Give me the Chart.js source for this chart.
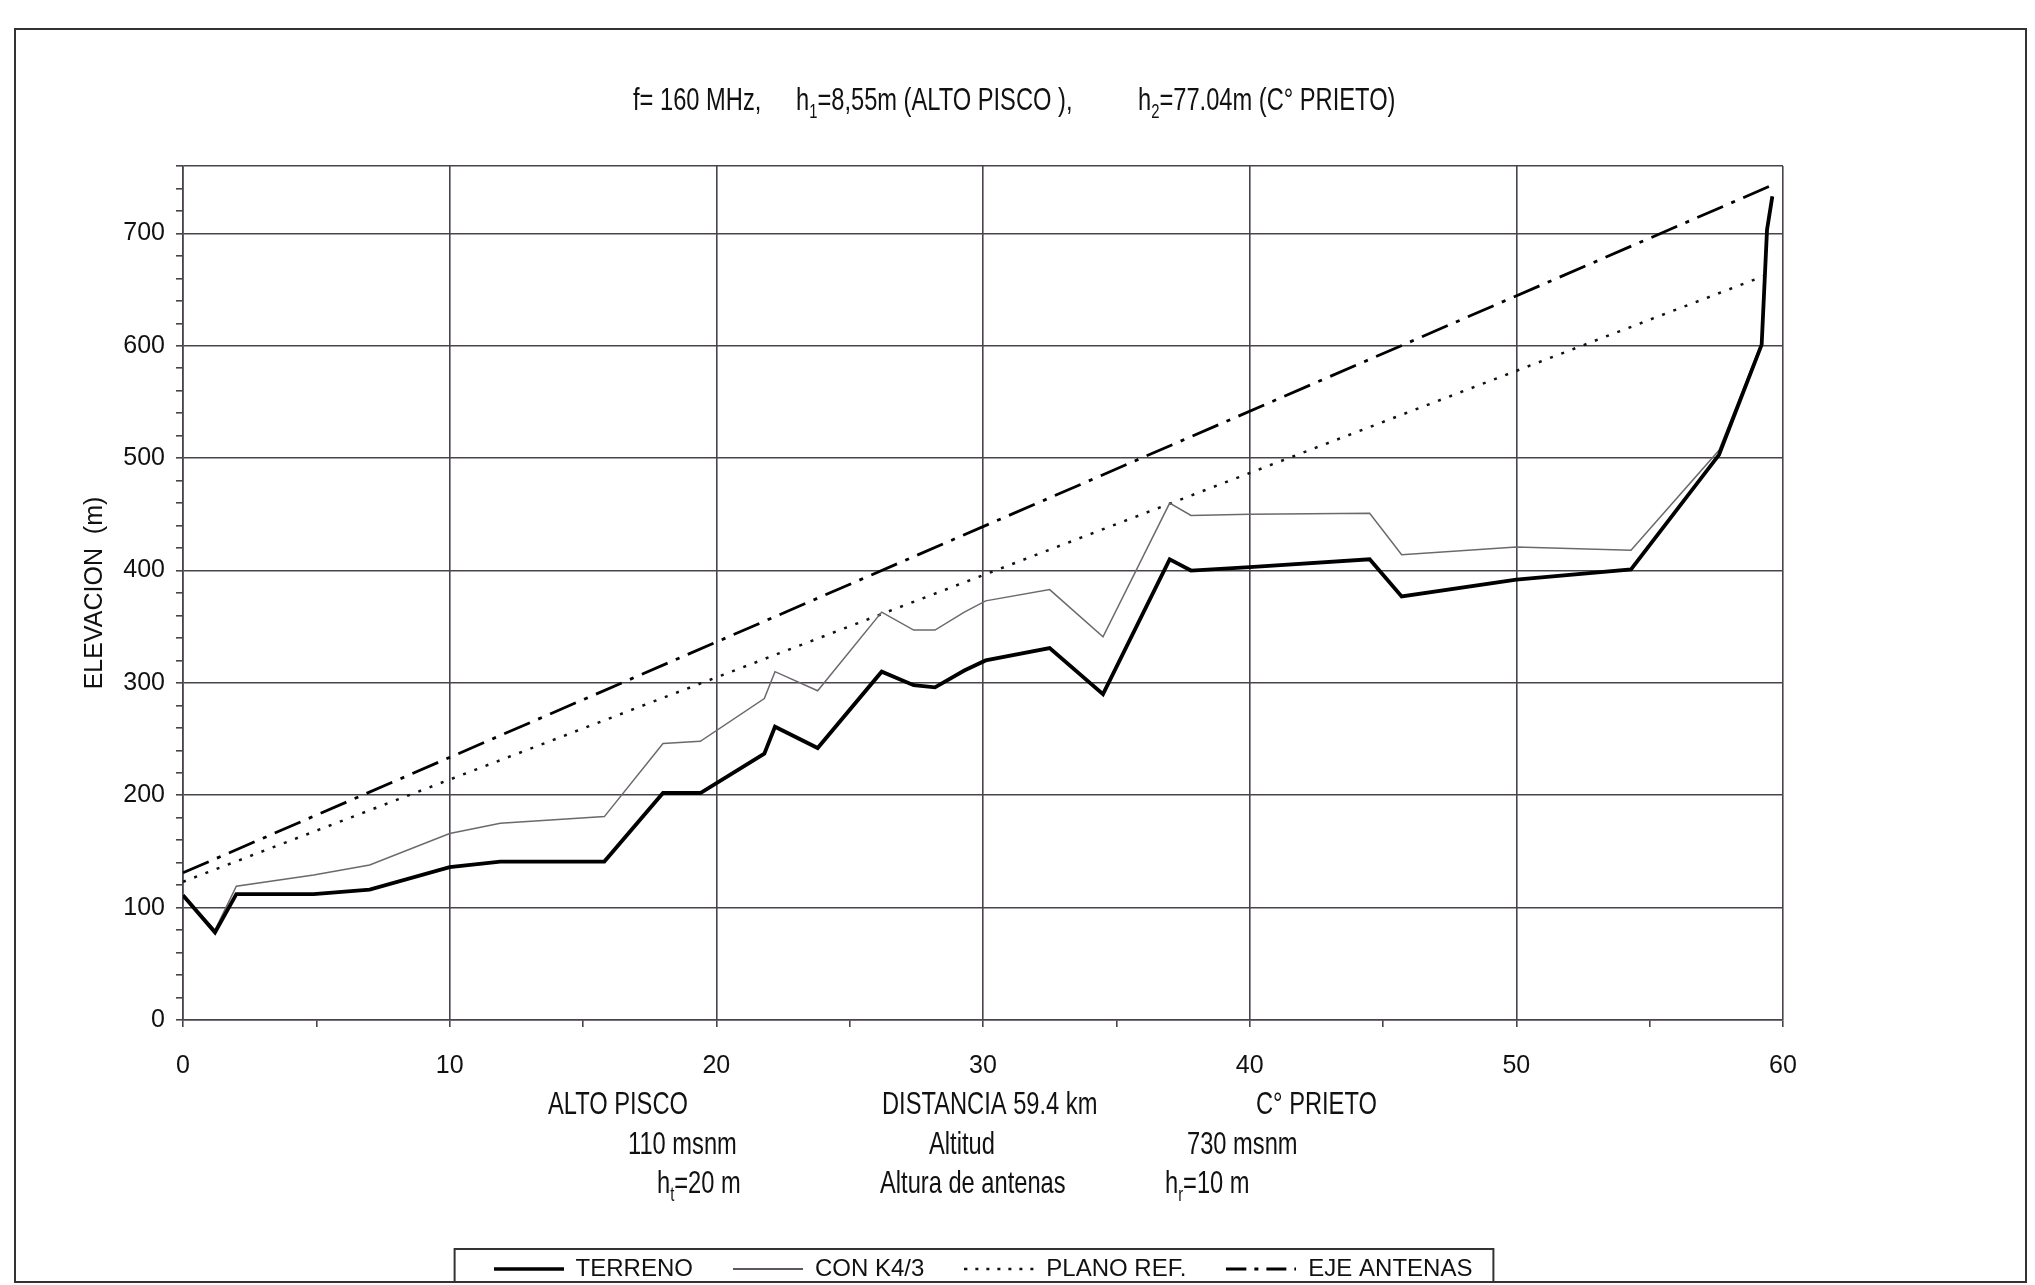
<!DOCTYPE html>
<html>
<head>
<meta charset="utf-8">
<script src="https://cdn.jsdelivr.net/npm/chart.js@4/dist/chart.umd.min.js"></script>
<style>
  body { margin: 0; background: #fff; }
  #wrap { width: 2035px; height: 1285px; }
</style>
</head>
<body>
<div id="wrap"><canvas id="perfil" width="2035" height="1285"></canvas></div>
<script>
// distance (km) and elevation (m)
var distTerreno = [0, 1.2, 2.0, 4.9, 7.0, 10.0, 11.9, 15.8, 18.0, 19.4, 21.8, 22.2, 23.8, 26.2, 27.4, 28.2, 29.3, 30.1, 32.5, 34.5, 37.0, 37.8, 40.0, 44.5, 45.7, 50.0, 54.3, 57.6, 59.2, 59.4, 59.6];
var elevTerreno = [111, 78, 112, 112, 116, 136, 141, 141, 202, 202, 237, 261, 242, 310, 298, 296, 311, 320, 331, 290, 410, 400, 403, 410, 377, 392, 401, 503, 601, 703, 733];
var elevConK43  = [111, 80, 119, 129, 138, 166, 175, 181, 246, 248, 286, 310, 293, 363, 347, 347, 363, 373, 383, 341, 460, 449, 450, 451, 414, 421, 418, 507, 603, 704, 733];
// the two straight lines only need their end points
var distLineas = [0, 59.6];
var elevPlanoRef = [123, 665];
var elevEjeAntenas = [131, 743];

var seriesNombres = ['TERRENO', 'CON K4/3', 'PLANO REF.', 'EJE ANTENAS'];
var ejeYTitulo = 'ELEVACION  (m)';
var yMax = 760, xMax = 60;

// texts, "_x" means x is written as subscript
var tituloPartes = ['f= 160 MHz,', 'h_1=8,55m (ALTO PISCO ),', 'h_2=77.04m (C\u00b0 PRIETO)'];
var notaFilas = [
  ['ALTO PISCO', 'DISTANCIA 59.4 km', 'C\u00b0 PRIETO'],
  ['110 msnm', 'Altitud', '730 msnm'],
  ['h_t=20 m', 'Altura de antenas', 'h_r=10 m']
];

// layout of the free texts (pixels)
var tituloX = [633, 796, 1138], tituloY = 110;
var notaX = [[548, 882, 1256], [628, 929, 1187], [657, 880, 1165]];
var notaY = [1114, 1154, 1193];

var REGULAR = "'Liberation Sans', Arial, sans-serif";
var ESTRECHO = 0.74;   // no narrow font installed, squeeze the regular one
var TAM = 32;
var GRID = '#4a424c';

function puntos(xs, ys) {
  var out = [];
  for (var i = 0; i < xs.length; i++) out.push({x: xs[i], y: ys[i]});
  return out;
}

// small line sample used as the legend symbol (so the dashes show)
function muestra(dash, ancho, color) {
  var c = document.createElement('canvas');
  c.width = 70; c.height = 8;
  var g = c.getContext('2d');
  g.strokeStyle = color;
  g.lineWidth = ancho;
  g.setLineDash(dash);
  g.beginPath(); g.moveTo(0, 4); g.lineTo(70, 4); g.stroke();
  return c;
}

// draws "h_1=..." with a real subscript, in a narrow look
function textoSub(ctx, txt, x, y, size) {
  var trozos = txt.split(/_(.)/);
  for (var i = 0; i < trozos.length; i++) {
    var sub = (i % 2 == 1);
    var s = sub ? Math.round(size * 0.62) : size;
    ctx.font = s + 'px ' + REGULAR;
    ctx.save();
    ctx.translate(x, sub ? y + size * 0.24 : y);
    ctx.scale(ESTRECHO, 1);
    ctx.fillText(trozos[i], 0, 0);
    ctx.restore();
    x += ctx.measureText(trozos[i]).width * ESTRECHO;
  }
}

var textos = {
  id: 'textos',
  beforeDraw: function(chart) {
    var ctx = chart.ctx;
    ctx.save();
    ctx.strokeStyle = '#333';
    ctx.lineWidth = 2;
    ctx.strokeRect(15, 29, 2011, 1253);
    ctx.restore();
  },
  afterDraw: function(chart) {
    var ctx = chart.ctx;
    ctx.save();
    ctx.fillStyle = '#111';
    ctx.textBaseline = 'alphabetic';
    ctx.textAlign = 'left';
    for (var i = 0; i < tituloPartes.length; i++) {
      textoSub(ctx, tituloPartes[i], tituloX[i], tituloY, TAM);
    }
    for (var r = 0; r < notaFilas.length; r++) {
      for (var c = 0; c < notaFilas[r].length; c++) {
        textoSub(ctx, notaFilas[r][c], notaX[r][c], notaY[r], TAM);
      }
    }
    // frame round the legend
    var hb = chart.legend.legendHitBoxes;
    if (hb && hb.length) {
      var l = hb[0].left, rgt = hb[0].left + hb[0].width;
      hb.forEach(function(h) { l = Math.min(l, h.left); rgt = Math.max(rgt, h.left + h.width); });
      var mid = hb[0].top + hb[0].height / 2;
      ctx.strokeStyle = '#333';
      ctx.lineWidth = 2;
      ctx.strokeRect(l - 39, mid - 20, (rgt - l) + 60, 1282 - (mid - 20));
    }
    ctx.restore();
  }
};

var data = {
  datasets: [
    { label: seriesNombres[0], data: puntos(distTerreno, elevTerreno), borderColor: '#000', borderWidth: 3.8, order: 0,
      pointStyle: muestra([], 3.5, '#000') },
    { label: seriesNombres[1], data: puntos(distTerreno, elevConK43), borderColor: '#6e686c', borderWidth: 1.5, order: 1,
      pointStyle: muestra([], 2, '#5e5660') },
    { label: seriesNombres[2], data: puntos(distLineas, elevPlanoRef), borderColor: '#111', borderWidth: 2.5, borderDash: [3, 9], order: 2,
      pointStyle: muestra([3, 8], 2.5, '#111') },
    { label: seriesNombres[3], data: puntos(distLineas, elevEjeAntenas), borderColor: '#000', borderWidth: 2.8, borderDash: [28, 9, 4, 9], order: 3,
      pointStyle: muestra([20, 8, 4, 8], 2.8, '#000') }
  ]
};

var config = {
  type: 'line',
  data: data,
  options: {
    responsive: false,
    animation: false,
    devicePixelRatio: 1,
    layout: { padding: { left: 76, right: 252, top: 166, bottom: -6 } },
    elements: { point: { radius: 0 }, line: { tension: 0, fill: false, borderCapStyle: 'butt' } },
    scales: {
      x: {
        type: 'linear', min: 0, max: xMax,
        afterFit: function(s) { s.height = 197; },
        ticks: {
          stepSize: 5, autoSkip: false, maxRotation: 0, padding: 24, color: '#111',
          font: { family: REGULAR, size: 25 },
          callback: function(v) { return v % 10 == 0 ? v : ''; }
        },
        grid: {
          lineWidth: 1.6, tickLength: 7, tickColor: GRID,
          color: function(c) { return c.tick && c.tick.value % 10 == 0 ? GRID : 'rgba(0,0,0,0)'; }
        },
        border: { color: GRID, width: 1.6 }
      },
      y: {
        min: 0, max: yMax,
        afterFit: function(s) { s.width = 107; },
        ticks: {
          stepSize: 20, autoSkip: false, padding: 11, color: '#111',
          font: { family: REGULAR, size: 25 },
          callback: function(v) { return v % 100 == 0 ? v : ''; }
        },
        grid: {
          lineWidth: 1.6, tickLength: 7, tickColor: GRID,
          color: function(c) { return c.tick && (c.tick.value % 100 == 0 || c.tick.value == yMax) ? GRID : 'rgba(0,0,0,0)'; }
        },
        border: { color: GRID, width: 1.6 },
        title: { display: true, text: ejeYTitulo, color: '#111', font: { family: REGULAR, size: 25 }, padding: { top: 4, bottom: 0 } }
      }
    },
    plugins: {
      title: { display: false },
      tooltip: { enabled: false },
      legend: {
        position: 'bottom', fullSize: false,
        labels: {
          usePointStyle: true, pointStyleWidth: 70, padding: 40,
          color: '#111', font: { family: REGULAR, size: 24 }
        }
      }
    }
  },
  plugins: [textos]
};

var myChart = new Chart(document.getElementById('perfil'), config);
</script>
</body>
</html>
